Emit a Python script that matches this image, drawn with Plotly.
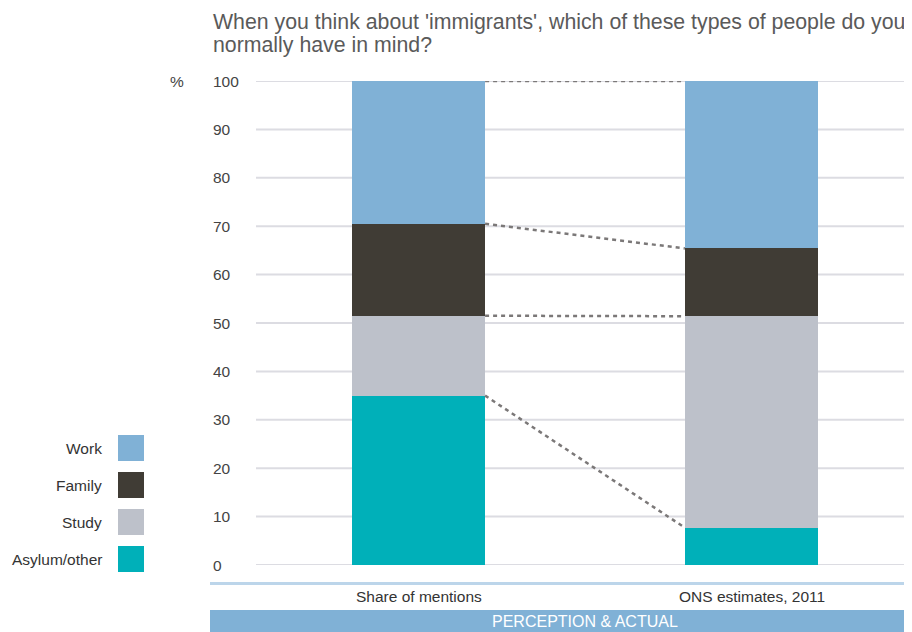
import plotly.graph_objects as go

# ---- data ----
categories = ["Share of mentions", "ONS estimates, 2011"]
series_names = ["Asylum/other", "Study", "Family", "Work"]
asylum = [35.0, 7.7]
study = [16.5, 43.7]
family = [19.0, 14.0]
work = [29.5, 34.6]
y_ticks = [0, 10, 20, 30, 40, 50, 60, 70, 80, 90, 100]
title_lines = ["When you think about 'immigrants', which of these types of people do you",
               "normally have in mind?"]
band_label = "PERCEPTION & ACTUAL"

colors = {"Work": "#80b1d6", "Family": "#403c35", "Study": "#bdc1ca", "Asylum/other": "#00b0b9"}
values = {"Asylum/other": asylum, "Study": study, "Family": family, "Work": work}

# the page places the figure 8px from the window's top-left corner
OFF = 8
W, H = 912 - OFF, 632 - OFF
L, R, T, B = 256 - OFF, 0, 81 - OFF, 67
PW = W - L - R
PH = H - T - B


def px_x(px):
    # reference-window x pixel -> paper coordinate
    return (px - OFF - L) / PW


def px_y(py):
    # reference-window y pixel -> paper coordinate
    return (H - B - (py - OFF)) / PH


FONT = "Liberation Sans, Arial, sans-serif"
LBL = 15.5
xs = list(range(len(categories)))
bar_w = 0.4

fig = go.Figure()
for name in series_names:
    fig.add_trace(go.Bar(x=xs, y=values[name], name=name, width=bar_w,
                         marker=dict(color=colors[name], line=dict(width=0)),
                         showlegend=False, hoverinfo="skip"))

# connecting dotted lines between stack boundaries
cum = [0.0, 0.0]
for name in series_names:
    cum = [cum[i] + values[name][i] for i in range(2)]
    fig.add_trace(go.Scatter(x=[xs[0] + bar_w / 2, xs[1] - bar_w / 2], y=list(cum),
                             mode="lines", line=dict(color="#7b7878", width=2.5, dash="4px,4px"),
                             showlegend=False, hoverinfo="skip"))

shapes = []
annotations = []

# gridlines + tick labels
for t in y_ticks:
    shapes.append(dict(type="line", xref="paper", yref="y", x0=0, x1=1, y0=t, y1=t,
                       line=dict(color="#dcdce2", width=2), layer="below"))
    annotations.append(dict(x=px_x(211), y=t, xref="paper", yref="y", text=str(t),
                            showarrow=False, xanchor="left", yanchor="middle",
                            font=dict(size=LBL, color="#444444", family=FONT)))
annotations.append(dict(x=px_x(177), y=100, xref="paper", yref="y", text="%",
                        showarrow=False, xanchor="center", yanchor="middle",
                        font=dict(size=LBL, color="#444444", family=FONT)))

# light blue rule
shapes.append(dict(type="line", xref="paper", yref="paper", x0=px_x(210), x1=1.0,
                   y0=px_y(583.5), y1=px_y(583.5), line=dict(color="#bcd5ea", width=3)))
# category labels
for i, c in enumerate(categories):
    annotations.append(dict(x=xs[i], y=px_y(596), xref="x", yref="paper", text=c,
                            showarrow=False, xanchor="center", yanchor="middle",
                            font=dict(size=LBL, color="#333333", family=FONT)))
# band
shapes.append(dict(type="rect", xref="paper", yref="paper", x0=px_x(210), x1=1.0,
                   y0=px_y(632), y1=px_y(610), fillcolor="#80b1d6", line=dict(width=0)))
annotations.append(dict(x=px_x(585), y=px_y(621), xref="paper", yref="paper", text=band_label,
                        showarrow=False, xanchor="center", yanchor="middle",
                        font=dict(size=16, color="#ffffff", family=FONT)))

# legend
legend_order = ["Work", "Family", "Study", "Asylum/other"]
for k, name in enumerate(legend_order):
    cy = 448 + k * 37
    shapes.append(dict(type="rect", xref="paper", yref="paper",
                       x0=px_x(118), x1=px_x(144), y0=px_y(cy + 13), y1=px_y(cy - 13),
                       fillcolor=colors[name], line=dict(width=0)))
    annotations.append(dict(x=px_x(104), y=px_y(cy), xref="paper", yref="paper", text=name,
                            showarrow=False, xanchor="right", yanchor="middle",
                            font=dict(size=LBL, color="#333333", family=FONT)))

# title
for j, line in enumerate(title_lines):
    annotations.append(dict(x=px_x(211), y=px_y(22 + j * 23), xref="paper", yref="paper",
                            text=line, showarrow=False, xanchor="left", yanchor="middle",
                            font=dict(size=21.3, color="#5a5a5a", family=FONT)))

x0 = -(418.5 - 256) / 333
fig.update_layout(
    width=W, height=H,
    margin=dict(l=L, r=R, t=T, b=B, pad=0),
    paper_bgcolor="white", plot_bgcolor="white",
    barmode="stack", bargap=0,
    xaxis=dict(range=[x0, x0 + PW / 333], showgrid=False, zeroline=False,
               showticklabels=False, ticks="", fixedrange=True),
    yaxis=dict(range=[0, 100], showgrid=False, zeroline=False, showticklabels=False,
               ticks="", fixedrange=True),
    shapes=shapes, annotations=annotations,
)

fig.write_html("out.html")
